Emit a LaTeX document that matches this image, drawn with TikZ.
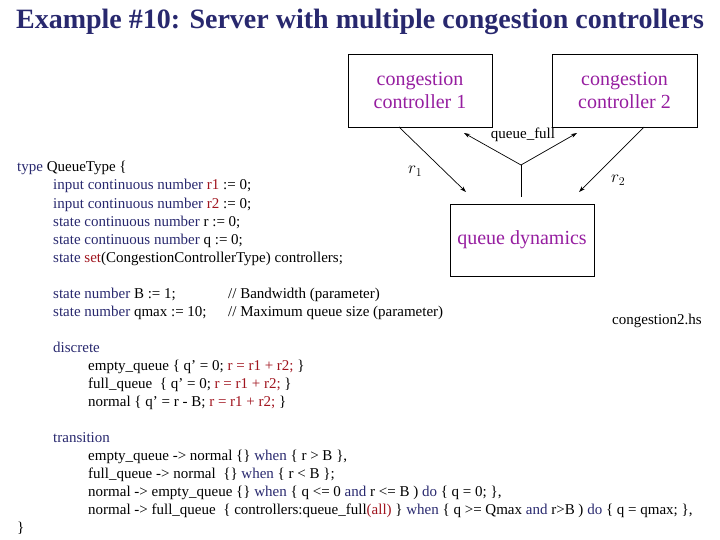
\documentclass[tikz,border=0pt]{standalone}
\usepackage{fontspec}
\setmainfont{Liberation Serif}
\usetikzlibrary{arrows.meta}
\definecolor{navy}{RGB}{40,40,110}
\definecolor{kred}{RGB}{160,20,30}
\definecolor{purp}{RGB}{150,30,160}
\newcommand{\kw}[1]{\textcolor{navy}{#1}}
\newcommand{\rd}[1]{\textcolor{kred}{#1}}
\begin{document}
\begin{tikzpicture}[x=1pt,y=-1pt,
  code/.style={anchor=base west,inner sep=0pt,font=\fontsize{15}{17}\selectfont},
  box/.style={draw,line width=0.8pt,inner sep=0pt,font=\fontsize{20}{23}\selectfont,text=purp,align=center},
  arr/.style={-{Stealth[length=6pt,width=4pt]},line width=0.7pt}]
\useasboundingbox (0,0) rectangle (720,540);
\node[anchor=base,inner sep=0pt,font=\fontsize{28}{30}\selectfont\bfseries,text=navy] (title) at (360,29) {Example \#10: Server with multiple congestion controllers};
\node[box,minimum width=144,minimum height=73] (c1) at (420,90.5) {congestion\\controller 1};
\node[box,minimum width=145,minimum height=73] (c2) at (624.5,90.5) {congestion\\controller 2};
\node[box,minimum width=144,minimum height=72] (qd) at (522,240) {queue dynamics};
\coordinate (j) at (521,165);
\coordinate (c1e) at (399,127);
\coordinate (c2e) at (644,127);
\coordinate (r1t) at (466,192);
\coordinate (r2t) at (579,192);
\coordinate (fl) at (464,133);
\coordinate (fr) at (577,133);
\draw[arr] (c1e) -- (r1t);
\draw[arr] (c2e) -- (r2t);
\draw[line width=0.7pt] (qd.north -| j) ++(0,-7) -- (j);
\draw[arr] (j) -- (fl);
\draw[arr] (j) -- (fr);
\node[code,anchor=base] (qf) at (523,139) {queue\_full};
\node[code,font=\fontsize{17}{19}\selectfont] (r1) at (408,174) {$r_1$};
\node[code,font=\fontsize{17}{19}\selectfont] (r2) at (611,183) {$r_2$};
\node[code] (l1) at (17,172) {\kw{type} QueueType \{};
\node[code] (l2) at (53,190) {\kw{input continuous number} \rd{r1} := 0;};
\node[code] (l3) at (53,208) {\kw{input continuous number} \rd{r2} := 0;};
\node[code] (l4) at (53,226) {\kw{state continuous number} r := 0;};
\node[code] (l5) at (53,244) {\kw{state continuous number} q := 0;};
\node[code] (l6) at (53,262) {\kw{state} \rd{set}(CongestionControllerType) controllers;};
\node[code] (l7) at (53,298) {\kw{state number} B := 1;};
\node[code] (l8) at (53,316) {\kw{state number} qmax := 10;};
\node[code] (m7) at (228,298) {// Bandwidth (parameter)};
\node[code] (m8) at (228,316) {// Maximum queue size (parameter)};
\node[code] (fn) at (612,324) {congestion2.hs};
\node[code] (d0) at (53,352) {\kw{discrete}};
\node[code] (d1) at (88,370) {empty\_queue \{ q’ = 0; \rd{r = r1 + r2;} \}};
\node[code] (d2) at (88,388) {full\_queue~~\{ q’ = 0; \rd{r = r1 + r2;} \}};
\node[code] (d3) at (88,406) {normal \{ q’ = r - B; \rd{r = r1 + r2;} \}};
\node[code] (t0) at (53,442) {\kw{transition}};
\node[code] (t1) at (88,460) {empty\_queue -> normal \{\} \kw{when} \{ r > B \},};
\node[code] (t2) at (88,478) {full\_queue -> normal~~\{\} \kw{when} \{ r < B \};};
\node[code] (t3) at (88,496) {normal -> empty\_queue \{\} \kw{when} \{ q <= 0 \kw{and} r <= B ) \kw{do} \{ q = 0; \},};
\node[code] (t4) at (88,514) {normal -> full\_queue~~\{ controllers:queue\_full\rd{(all)} \} \kw{when} \{ q >= Qmax \kw{and} r>B ) \kw{do} \{ q = qmax; \},};
\node[code] (cl) at (17,532) {\}};
\end{tikzpicture}
\end{document}
